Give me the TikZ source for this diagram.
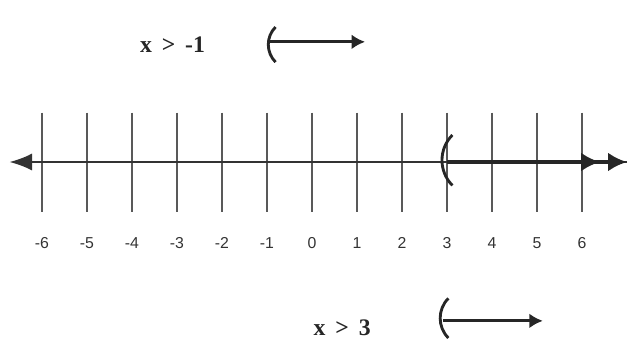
\documentclass[tikz,border=0pt]{standalone}
\usepackage{fontspec}
\setmainfont{Liberation Serif}
\setsansfont{Liberation Sans}
\usetikzlibrary{arrows.meta,calc,positioning}

\begin{document}
\begin{tikzpicture}[x=1cm,y=1cm,
tick/.style={black!65, line width=1pt},
num/.style={font=\sffamily\fontsize{10}{12}\selectfont, text=black!80},
ineq/.style={font=\bfseries\fontsize{15}{18}\selectfont, text=black!85},
ray/.style={black!85, line width=2pt, -{Latex[length=3mm,width=3.3mm]}},
paren/.style={black!85, line width=1.8pt}]
\useasboundingbox (-6.933,-4.067) rectangle (7.022,3.6);
% number line
\coordinate (L) at (-6.72,0);
\coordinate (R) at (7.0,0);
\foreach \n in {-6,...,6} {
  \draw[tick] (\n,1.1) -- (\n,-1.1);
  \node[num] (n\n) at (\n,-1.8) {\n};
}
\draw[black!80, line width=1pt, -{Latex[length=5mm,width=3.8mm]}] (R) -- (L);
% solution ray x > 3
\coordinate (s3) at (3,0);
\draw[paren] ($(s3)+(0.12,0.6)$) to[bend right=45] ($(s3)+(0.12,-0.52)$);
\draw[black!85, line width=3pt,
  -{Latex[length=4.2mm,width=4.2mm,sep=1.8mm]Latex[length=4.2mm,width=4.2mm]}] (s3) -- (R);
% x > -1
\node[ineq] (t1) at (-3.1,2.6) {x \,>\, -1};
\coordinate (p1) at (-0.93,2.67);
\coordinate (e1) at (1.18,2.67);
\draw[paren] ($(p1)+(0.12,0.33)$) to[bend right=45] ($(p1)+(0.12,-0.45)$);
\draw[ray] (p1) -- (e1);
% x > 3
\node[ineq] (t2) at (0.67,-3.69) {x \,>\, 3};
\coordinate (p2) at (2.91,-3.53);
\coordinate (e2) at (5.13,-3.53);
\draw[paren] ($(p2)+(0.12,0.5)$) to[bend right=45] ($(p2)+(0.12,-0.38)$);
\draw[ray] (p2) -- (e2);
\end{tikzpicture}
\end{document}
